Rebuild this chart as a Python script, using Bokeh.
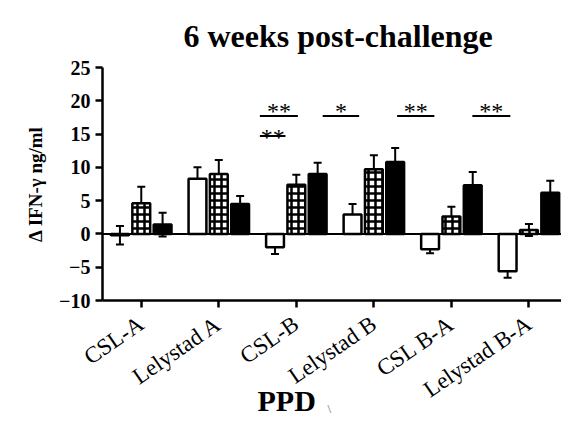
import numpy as np
from bokeh.plotting import figure
from bokeh.models import (ColumnDataSource, Whisker, TeeHead, Span, FixedTicker,
                          Range1d, Title)
from bokeh.core.properties import value
from bokeh.embed import file_html
from bokeh.resources import INLINE

# ---- data ----
categories = ["CSL-A", "Lelystad A", "CSL-B", "Lelystad B", "CSL B-A", "Lelystad B-A"]
open_vals = [-0.2, 8.3, -2.0, 2.9, -2.3, -5.6]
open_err = [1.4, 1.7, 1.0, 1.6, 0.6, 1.0]
check_vals = [4.6, 9.0, 7.4, 9.7, 2.6, 0.6]
check_err = [2.5, 2.1, 1.5, 2.1, 1.5, 0.9]
solid_vals = [1.4, 4.5, 9.0, 10.8, 7.3, 6.2]
solid_err = [1.8, 1.2, 1.7, 2.1, 2.0, 1.8]

# significance bars and their labels
sig_start = [1.53, 2.34, 3.30, 4.27, 1.53]
sig_end = [2.02, 2.81, 3.78, 4.76, 1.86]
sig_y = [17.7, 17.7, 17.7, 17.7, 14.7]
sig_text_y = [18.4, 18.4, 18.4, 18.4, 14.5]
sig_text = ["**", "*", "**", "**", "**"]

y_ticks = [-10, -5, 0, 5, 10, 15, 20, 25]

SERIF = "Liberation Serif"
OFFSET = 0.275
BAR_W = 0.23

idx = np.arange(len(categories))

p = figure(width=561, height=418, x_range=Range1d(-0.5, 5.42), y_range=Range1d(-10, 25),
           output_backend="svg", toolbar_location=None, title=None,
           min_border_left=102, min_border_right=0, min_border_top=67, min_border_bottom=118)

xax = p.below[0]
yax = p.left[0]

p.grid.visible = False
p.outline_line_color = None
p.background_fill_color = "white"
p.border_fill_color = "white"

# bars
p.vbar(x=idx - OFFSET, top=open_vals, bottom=0, width=BAR_W, fill_color="white",
       line_color="black", line_width=2.5)
p.vbar(x=idx, top=check_vals, bottom=0, width=BAR_W, fill_color="white",
       hatch_pattern="cross", hatch_color="black", hatch_scale=7, hatch_weight=2.5,
       line_color="black", line_width=2.5)
p.vbar(x=idx + OFFSET, top=solid_vals, bottom=0, width=BAR_W, fill_color="black",
       line_color="black", line_width=2.5)

# error bars
xs = np.concatenate([idx - OFFSET, idx, idx + OFFSET])
vals = np.array(open_vals + check_vals + solid_vals)
errs = np.array(open_err + check_err + solid_err)
esrc = ColumnDataSource(dict(x=xs, lower=vals - errs, upper=vals + errs))
p.add_layout(Whisker(base="x", lower="lower", upper="upper", source=esrc,
                     line_color="black", line_width=2,
                     upper_head=TeeHead(size=8, line_width=2, line_color="black"),
                     lower_head=TeeHead(size=8, line_width=2, line_color="black")))

# zero line
p.add_layout(Span(location=0, dimension="width", line_color="black", line_width=2))

# significance marks
p.segment(x0=sig_start, x1=sig_end, y0=sig_y, y1=sig_y, line_color="black", line_width=2)
p.text(x=[(a + b) / 2 for a, b in zip(sig_start, sig_end)], y=sig_text_y,
       text=sig_text, text_font=value(SERIF), text_font_size="24px",
       text_align="center", text_baseline="middle", text_color="black")

# axes
for ax in (xax, yax):
    ax.axis_line_width = 2.5
    ax.axis_line_color = "black"
    ax.major_tick_line_width = 2.5
    ax.major_tick_line_color = "black"
    ax.major_tick_in = 0
    ax.major_tick_out = 7
    ax.minor_tick_line_color = None

yax.ticker = FixedTicker(ticks=y_ticks)
yax.major_label_text_font = SERIF
yax.major_label_text_font_size = "20px"
yax.major_label_text_font_style = "bold"
yax.major_label_text_color = "black"
yax.major_label_standoff = 5
yax.axis_label = "\u0394 IFN-\u03b3 ng/ml"
yax.axis_label_text_font = SERIF
yax.axis_label_text_font_size = "19px"
yax.axis_label_text_font_style = "bold"
yax.axis_label_text_color = "black"
yax.axis_label_standoff = 10

xax.ticker = FixedTicker(ticks=list(idx))
xax.major_label_overrides = {int(i): c for i, c in zip(idx, categories)}
xax.major_label_orientation = 0.6
xax.major_label_text_font = SERIF
xax.major_label_text_font_size = "23px"
xax.major_label_text_color = "black"
xax.major_label_standoff = 14

# title, lifted away from the frame by its standoff
p.add_layout(Title(text="6 weeks post-challenge", align="left", offset=81, standoff=28,
                   text_font=SERIF, text_font_size="32px", text_font_style="bold",
                   text_color="black"), "above")

p.add_layout(Title(text="PPD", align="left", offset=155, standoff=-63, vertical_align="top",
                   text_font=SERIF, text_font_size="30px", text_font_style="bold",
                   text_color="black"), "below")
p.add_layout(Title(text="\\", align="left", offset=225, standoff=-30, vertical_align="top",
                   text_font=SERIF, text_font_size="13px", text_color="#999999"), "below")

open("out.html", "w").write(file_html(p, INLINE))
